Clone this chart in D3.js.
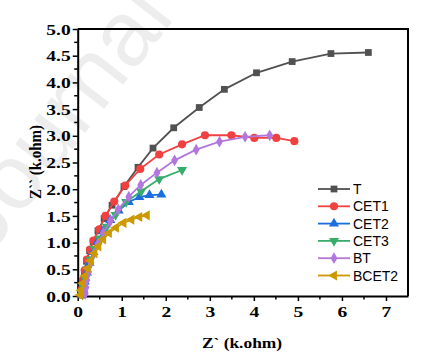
<!DOCTYPE html>
<html><head><meta charset="utf-8">
<script src="https://cdn.jsdelivr.net/npm/d3@7"></script>
<style>body{margin:0;background:#fff}svg{display:block}</style>
</head><body>
<svg id="c" width="435" height="356"></svg>
<script>
const seriesNames = ["T","CET1","CET2","CET3","BT","BCET2"];
const seriesColors = ["#515151","#F14040","#1A6FDF","#37AD6B","#B177DE","#CC9900"];
const T_x = [0.09,0.10,0.12,0.15,0.20,0.27,0.35,0.46,0.60,0.78,1.05,1.37,1.71,2.18,2.76,3.33,4.06,4.87,5.75,6.60];
const T_y = [0.02,0.12,0.28,0.45,0.65,0.85,1.02,1.22,1.45,1.70,2.05,2.41,2.77,3.15,3.53,3.87,4.18,4.39,4.54,4.56];
const CET1_x = [0.09,0.10,0.12,0.16,0.21,0.28,0.36,0.49,0.63,0.83,1.08,1.42,1.85,2.37,2.89,3.49,4.01,4.51,4.92];
const CET1_y = [0.03,0.14,0.30,0.48,0.68,0.87,1.04,1.25,1.50,1.77,2.07,2.38,2.65,2.84,3.01,3.01,2.96,2.96,2.90];
const CET2_x = [0.11,0.13,0.16,0.21,0.27,0.35,0.45,0.58,0.74,0.93,1.16,1.40,1.63,1.90];
const CET2_y = [0.02,0.12,0.27,0.44,0.62,0.82,1.02,1.22,1.42,1.60,1.76,1.85,1.89,1.90];
const CET3_x = [0.11,0.13,0.17,0.22,0.29,0.38,0.50,0.66,0.86,1.10,1.44,1.85,2.37];
const CET3_y = [0.03,0.16,0.32,0.50,0.68,0.88,1.08,1.30,1.52,1.76,1.96,2.19,2.36];
const BT_x = [0.17,0.19,0.21,0.25,0.30,0.37,0.46,0.58,0.74,0.92,1.16,1.43,1.80,2.20,2.69,3.22,3.80,4.36];
const BT_y = [0.04,0.16,0.30,0.45,0.62,0.80,0.98,1.18,1.40,1.62,1.86,2.08,2.31,2.54,2.74,2.89,2.98,3.01];
const BCET2_x = [0.06,0.08,0.12,0.17,0.23,0.30,0.38,0.47,0.58,0.71,0.87,1.04,1.22,1.40,1.57];
const BCET2_y = [0.02,0.11,0.24,0.38,0.52,0.66,0.80,0.93,1.06,1.18,1.28,1.37,1.43,1.48,1.51];
const xTicks = [0,1,2,3,4,5,6,7];
const yTicks = [0,0.5,1,1.5,2,2.5,3,3.5,4,4.5,5];
const xTitle = "Z` (k.ohm)";
const yTitle = "Z`` (k.ohm)";
const watermark = "Journal Pre-proof";

const series = [
  {x:T_x,y:T_y,sym:d3.symbolSquare,rot:0,size:46},
  {x:CET1_x,y:CET1_y,sym:d3.symbolCircle,rot:0,size:52},
  {x:CET2_x,y:CET2_y,sym:d3.symbolTriangle,rot:0,size:44},
  {x:CET3_x,y:CET3_y,sym:d3.symbolTriangle,rot:180,size:44},
  {x:BT_x,y:BT_y,sym:d3.symbolDiamond,rot:0,size:40},
  {x:BCET2_x,y:BCET2_y,sym:d3.symbolTriangle,rot:-90,size:44}
];

const svg = d3.select("#c");
const L=77.7, R=408, TOP=29, B=296;
const x = d3.scaleLinear().domain([0,7.5]).range([L,R]);
const y = d3.scaleLinear().domain([0,5]).range([B,TOP]);
const SX = 1.3;

// watermark
svg.append("text").attr("transform","translate(-10,255) rotate(-52)")
  .attr("font-family","Liberation Sans, Arial, sans-serif").attr("font-size",92)
  .attr("fill","#000").attr("fill-opacity",0.07).text(watermark);

// minor ticks
const xMinor = d3.range(0.5,7.5,1);
const yMinor = d3.range(0.25,5,0.5);
const g = svg.append("g");
g.selectAll(".xm").data(xMinor).join("line").attr("x1",d=>x(d)).attr("x2",d=>x(d))
  .attr("y1",B).attr("y2",B+3.5).attr("stroke","#000").attr("stroke-width",1.5);
g.selectAll(".ym").data(yMinor).join("line").attr("y1",d=>y(d)).attr("y2",d=>y(d))
  .attr("x1",L).attr("x2",L-3.5).attr("stroke","#000").attr("stroke-width",1.5);

const xa = svg.append("g").attr("transform",`translate(0,${B})`)
  .call(d3.axisBottom(x).tickValues(xTicks).tickFormat(d3.format("d")).tickSize(5).tickSizeOuter(0));
const ya = svg.append("g").attr("transform",`translate(${L},0)`)
  .call(d3.axisLeft(y).tickValues(yTicks).tickFormat(d3.format(".1f")).tickSize(5).tickSizeOuter(0));
[xa,ya].forEach(a=>{
  a.select(".domain").attr("stroke-width",2);
  a.selectAll(".tick line").attr("stroke-width",1.5);
  a.selectAll("text").attr("font-family","Liberation Serif, Times New Roman, serif")
    .attr("font-weight","bold").attr("font-size",15).attr("fill","#000")
    .attr("transform",`scale(${SX},1)`);
});
xa.selectAll("text").attr("y",8).attr("dy","0.9em");
ya.selectAll("text").attr("x",-7/SX).attr("dy","0.34em");

// frame top/right
svg.append("path").attr("d",`M${L},${TOP}H${R}V${B}`).attr("fill","none").attr("stroke","#000").attr("stroke-width",2);

// series
const line = d3.line();
series.forEach((s,i)=>{
  const pts = s.x.map((v,k)=>[x(v),y(s.y[k])]);
  const gg = svg.append("g");
  gg.append("path").attr("d",line(pts)).attr("fill","none").attr("stroke",seriesColors[i]).attr("stroke-width",1.8);
  gg.selectAll("path.m").data(pts).join("path").attr("class","m")
    .attr("d",d3.symbol(s.sym,s.size)).attr("fill",seriesColors[i])
    .attr("transform",d=>`translate(${d[0]},${d[1]}) rotate(${s.rot})`);
});

// legend
const lg = svg.append("g");
seriesNames.forEach((n,i)=>{
  const s = series[i]; const yy = 189 + i*17.3;
  lg.append("line").attr("x1",318).attr("x2",350).attr("y1",yy).attr("y2",yy)
    .attr("stroke",seriesColors[i]).attr("stroke-width",1.8);
  lg.append("path").attr("d",d3.symbol(s.sym,s.size)).attr("fill",seriesColors[i])
    .attr("transform",`translate(334,${yy}) rotate(${s.rot})`);
  lg.append("text").attr("x",353).attr("y",yy).attr("dy","0.36em")
    .attr("font-family","Liberation Sans, Arial, sans-serif").attr("font-size",14).attr("fill","#000").text(n);
});

// axis titles
svg.append("text").attr("transform","translate(242,348) scale(1.16,1)").attr("text-anchor","middle")
  .attr("font-family","Liberation Serif, Times New Roman, serif").attr("font-weight","bold").attr("font-size",15).text(xTitle);
svg.append("text").attr("transform","translate(41,162) rotate(-90) scale(1,1.16)").attr("text-anchor","middle")
  .attr("font-family","Liberation Serif, Times New Roman, serif").attr("font-weight","bold").attr("font-size",15).text(yTitle);
</script>
</body></html>
